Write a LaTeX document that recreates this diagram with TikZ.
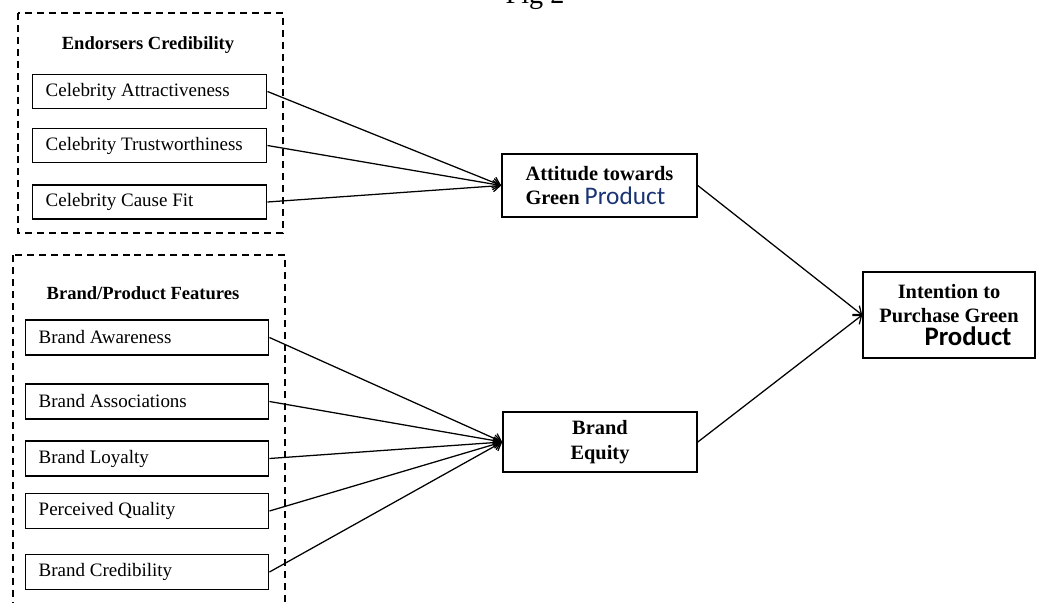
\documentclass[tikz,border=0pt]{standalone}
\usepackage{fontspec}
\setmainfont{Liberation Serif}
\newfontfamily\calfont{Carlito}
\usetikzlibrary{arrows.meta}

\begin{document}
\begin{tikzpicture}[x=0.025cm, y=-0.025cm,
                    factor/.style={rectangle, draw, line width=1pt, inner xsep=0.325cm, text width=5.2cm, minimum height=0.85cm, align=flush left, font=\fontsize{13.5}{15}\selectfont},
                    brandfactor/.style={factor, text width=5.425cm, minimum height=0.875cm},
                    group/.style={draw, dashed, line width=0.9pt, dash pattern=on 5pt off 3.5pt},
                    construct/.style={rectangle, draw, line width=1.1pt, font=\fontsize{14.5}{17.5}\selectfont\bfseries},
                    path/.style={line width=0.9pt, -{Straight Barb[length=5pt, width=8pt]}}]
                    \useasboundingbox (0, 0) rectangle (1037, 603);
                    \clip (0, 0) rectangle (1037, 603);

                    \node (FIG) [anchor=base, font=\fontsize{20}{24}\selectfont] at (535, 4) {Fig 2};

                    \draw[group] (18, 13) rectangle (283, 233);
                    \draw[group] (13, 255) rectangle (285, 615);
                    \node (EC) [font=\fontsize{13.2}{15}\selectfont\bfseries] at (148, 45) {Endorsers Credibility};
                    \node (BPF) [font=\fontsize{13.2}{15}\selectfont\bfseries] at (143, 293) {Brand/Product Features};

                    \node (CA) [factor, anchor=west] at (32, 91.5) {Celebrity Attractiveness};
                    \node (CT) [factor, anchor=west] at (32, 145.5) {Celebrity Trustworthiness};
                    \node (CCF) [factor, anchor=west] at (32, 202) {Celebrity Cause Fit};

                    \node (BA) [brandfactor, anchor=west] at (25, 337.5) {Brand Awareness};
                    \node (BAS) [brandfactor, anchor=west] at (25, 401.5) {Brand Associations};
                    \node (BL) [brandfactor, anchor=west] at (25, 458.5) {Brand Loyalty};
                    \node (PQ) [brandfactor, anchor=west] at (25, 511) {Perceived Quality};
                    \node (BC) [brandfactor, anchor=west] at (25, 572) {Brand Credibility};

                    \node (ATT) [construct, minimum width=4.875cm, minimum height=1.575cm, align=left] at (599.5, 185.5) {Attitude towards\\Green {\calfont\mdseries\fontsize{18}{18}\selectfont\color[rgb]{0.1,0.2,0.45}Product}};
                    \node (BE) [construct, minimum width=4.85cm, minimum height=1.5cm, align=center] at (600, 442) {Brand\\Equity};
                    \node (IPG) [construct, minimum width=4.3cm, minimum height=2.15cm, align=center] at (949, 315) {Intention to\\Purchase Green\\[-1pt]\hspace*{27pt}{\calfont\fontsize{19}{19}\selectfont Product}};

                    \draw (CA.east) edge[path] (ATT.west);
                    \draw (CT.east) edge[path] (ATT.west);
                    \draw (CCF.east) edge[path] (ATT.west);
                    \draw (BA.east) edge[path] (BE.west);
                    \draw (BAS.east) edge[path] (BE.west);
                    \draw (BL.east) edge[path] (BE.west);
                    \draw (PQ.east) edge[path] (BE.west);
                    \draw (BC.east) edge[path] (BE.west);
                    \draw (ATT.east) edge[path] (IPG.west);
                    \draw (BE.east) edge[path] (IPG.west);
                \end{tikzpicture}
\end{document}
